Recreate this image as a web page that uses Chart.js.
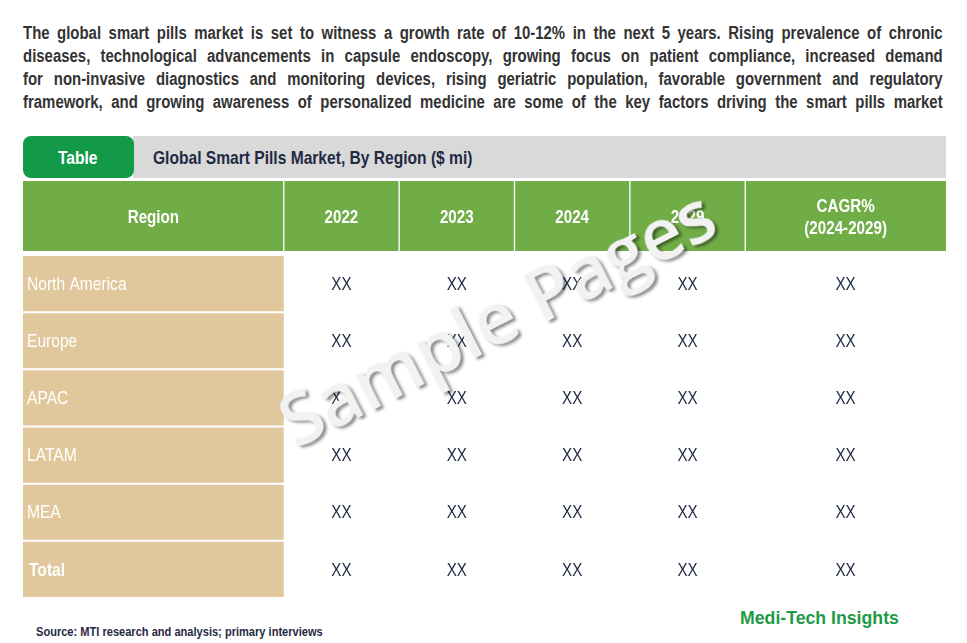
<!DOCTYPE html>
<html><head><meta charset="utf-8">
<script src="https://cdn.jsdelivr.net/npm/chart.js@4.4.1/dist/chart.umd.min.js"></script>
<style>
html,body{margin:0;padding:0;background:#fff;width:967px;height:643px;overflow:hidden;position:relative;font-family:'Liberation Sans',Arial,sans-serif}
.nar{display:inline-block;transform:scaleX(0.82);transform-origin:0 50%;white-space:nowrap}
#intro{position:absolute;left:23px;top:22px;width:920px;font-weight:bold;font-size:18px;line-height:23px;color:#333}
#intro div{width:1108px;text-align:justify;text-align-last:justify;white-space:nowrap;transform:scaleX(0.83);transform-origin:0 50%}
#bar{position:absolute;left:133px;top:136px;width:813px;height:42px;background:#d9d9d9}
#bar span{position:absolute;left:20px;top:0;line-height:44px;font-size:19px;font-weight:bold;color:#1f2a44}
#tab{position:absolute;left:23px;top:136px;width:111px;height:42px;border-radius:8px;background:#139a48}
#tab span{position:absolute;left:35px;top:0;line-height:44px;color:#fff;font-weight:bold;font-size:19px}
#head{position:absolute;left:23px;top:181px;width:923px;height:70px}
#body{position:absolute;left:23px;top:255px;width:923px;height:343px}
#wm{position:absolute;left:496px;top:316px;transform:translate(-50%,-50%) rotate(-27deg);font-family:'Open Sans',sans-serif;font-weight:600;font-size:72px;color:#f2f2f2;text-shadow:2px 3px 3px rgba(0,0,0,0.45);white-space:nowrap;line-height:1}
#src{position:absolute;left:36px;top:624px;font-size:13.5px;line-height:16px;font-weight:bold;color:#1f2a44}
#brand{position:absolute;left:740px;top:607px;font-size:17.7px;line-height:22px;font-weight:bold;color:#1e9a48;white-space:nowrap}
</style></head>
<body>
<div id="intro">
<div>The global smart pills market is set to witness a growth rate of 10-12% in the next 5 years. Rising prevalence of chronic</div>
<div>diseases, technological advancements in capsule endoscopy, growing focus on patient compliance, increased demand</div>
<div>for non-invasive diagnostics and monitoring devices, rising geriatric population, favorable government and regulatory</div>
<div>framework, and growing awareness of personalized medicine are some of the key factors driving the smart pills market</div>
</div>
<div id="bar"><span class="nar">Global Smart Pills Market, By Region ($ mi)</span></div>
<div id="tab"><span class="nar">Table</span></div>
<div id="head"><canvas id="hc" width="923" height="70"></canvas></div>
<div id="body"><canvas id="bc" width="923" height="343"></canvas></div>
<div id="wm">Sample Pages</div>
<div id="src"><span class="nar">Source: MTI research and analysis; primary interviews</span></div>
<div id="brand">Medi-Tech Insights</div>
<script>
// ---- data ----
const headers = ['Region', '2022', '2023', '2024', '2029', 'CAGR%\n(2024-2029)'];
const regions = ['North America', 'Europe', 'APAC', 'LATAM', 'MEA', 'Total'];
const v2022 = ['XX','XX','XX','XX','XX','XX'];
const v2023 = ['XX','XX','XX','XX','XX','XX'];
const v2024 = ['XX','XX','XX','XX','XX','XX'];
const v2029 = ['XX','XX','XX','XX','XX','XX'];
const cagr  = ['XX','XX','XX','XX','XX','XX'];
const columnValues = [regions, v2022, v2023, v2024, v2029, cagr];

// ---- layout ----
const colWidths = [2.26, 1, 1, 1, 1, 1.74];
const bounds = [0];
colWidths.forEach(w => bounds.push(bounds[bounds.length-1] + w));
const total = bounds[bounds.length-1];
const FONT = "'Liberation Sans',Arial,sans-serif";
const NARROW = 0.82;

function narrowText(ctx, t, x, y) {
  ctx.save();
  ctx.translate(x, y);
  ctx.scale(NARROW, 1);
  ctx.fillText(t, 0, 0);
  ctx.restore();
}

const baseOpts = {
  responsive: false, animation: false, devicePixelRatio: 1,
  indexAxis: 'y',
  layout: { padding: 0 },
  plugins: { legend: { display: false }, tooltip: { enabled: false } },
  scales: {
    x: { type: 'linear', min: 0, max: total, display: false },
    y: { type: 'category', display: false }
  }
};

const headText = {
  id: 'headText',
  afterDatasetsDraw(chart) {
    const ctx = chart.ctx;
    ctx.save();
    ctx.fillStyle = '#fff';
    ctx.font = 'bold 18.5px ' + FONT;
    ctx.textAlign = 'center';
    ctx.textBaseline = 'middle';
    chart.data.datasets.forEach((ds, j) => {
      const bar = chart.getDatasetMeta(j).data[0];
      const p = bar.getProps(['x','base','y'], true);
      const cx = (p.x + p.base) / 2;
      const lines = headers[j].split('\n');
      const lh = 22;
      lines.forEach((l, k) => narrowText(ctx, l, cx, p.y + (k - (lines.length-1)/2) * lh + 2));
    });
    ctx.restore();
  }
};

const bodyText = {
  id: 'bodyText',
  afterDatasetsDraw(chart) {
    const ctx = chart.ctx;
    ctx.save();
    ctx.textBaseline = 'middle';
    chart.data.datasets.forEach((ds, j) => {
      chart.getDatasetMeta(j).data.forEach((bar, i) => {
        const p = bar.getProps(['x','base','y'], true);
        const t = columnValues[j][i];
        if (j === 0) {
          ctx.fillStyle = '#fff';
          ctx.textAlign = 'left';
          const isTotal = i === regions.length - 1;
          ctx.font = (isTotal ? 'bold ' : '') + '19px ' + FONT;
          narrowText(ctx, t, p.base + (isTotal ? 6 : 4), p.y + 1);
        } else {
          ctx.fillStyle = '#1f2a44';
          ctx.textAlign = 'center';
          ctx.font = '18.5px ' + FONT;
          narrowText(ctx, t, (p.x + p.base) / 2, p.y + 1);
        }
      });
    });
    ctx.restore();
  }
};

new Chart(document.getElementById('hc'), {
  type: 'bar',
  data: {
    labels: ['header'],
    datasets: headers.map((h, j) => ({
      label: h,
      data: [[bounds[j], bounds[j+1]]],
      backgroundColor: '#70ad47',
      borderColor: '#ffffff',
      borderWidth: { left: j === 0 ? 0 : 1, right: j === headers.length-1 ? 0 : 1, top: 0, bottom: 0 },
      borderSkipped: false,
      grouped: false,
      barPercentage: 1, categoryPercentage: 1
    }))
  },
  options: baseOpts,
  plugins: [headText]
});

new Chart(document.getElementById('bc'), {
  type: 'bar',
  data: {
    labels: regions,
    datasets: columnValues.map((vals, j) => ({
      label: headers[j],
      data: vals.map(() => [bounds[j], bounds[j+1]]),
      backgroundColor: j === 0 ? '#e1c89c' : 'rgba(255,255,255,0)',
      borderWidth: 0,
      grouped: false,
      barPercentage: 0.965, categoryPercentage: 1
    }))
  },
  options: baseOpts,
  plugins: [bodyText]
});
</script>
</body></html>
